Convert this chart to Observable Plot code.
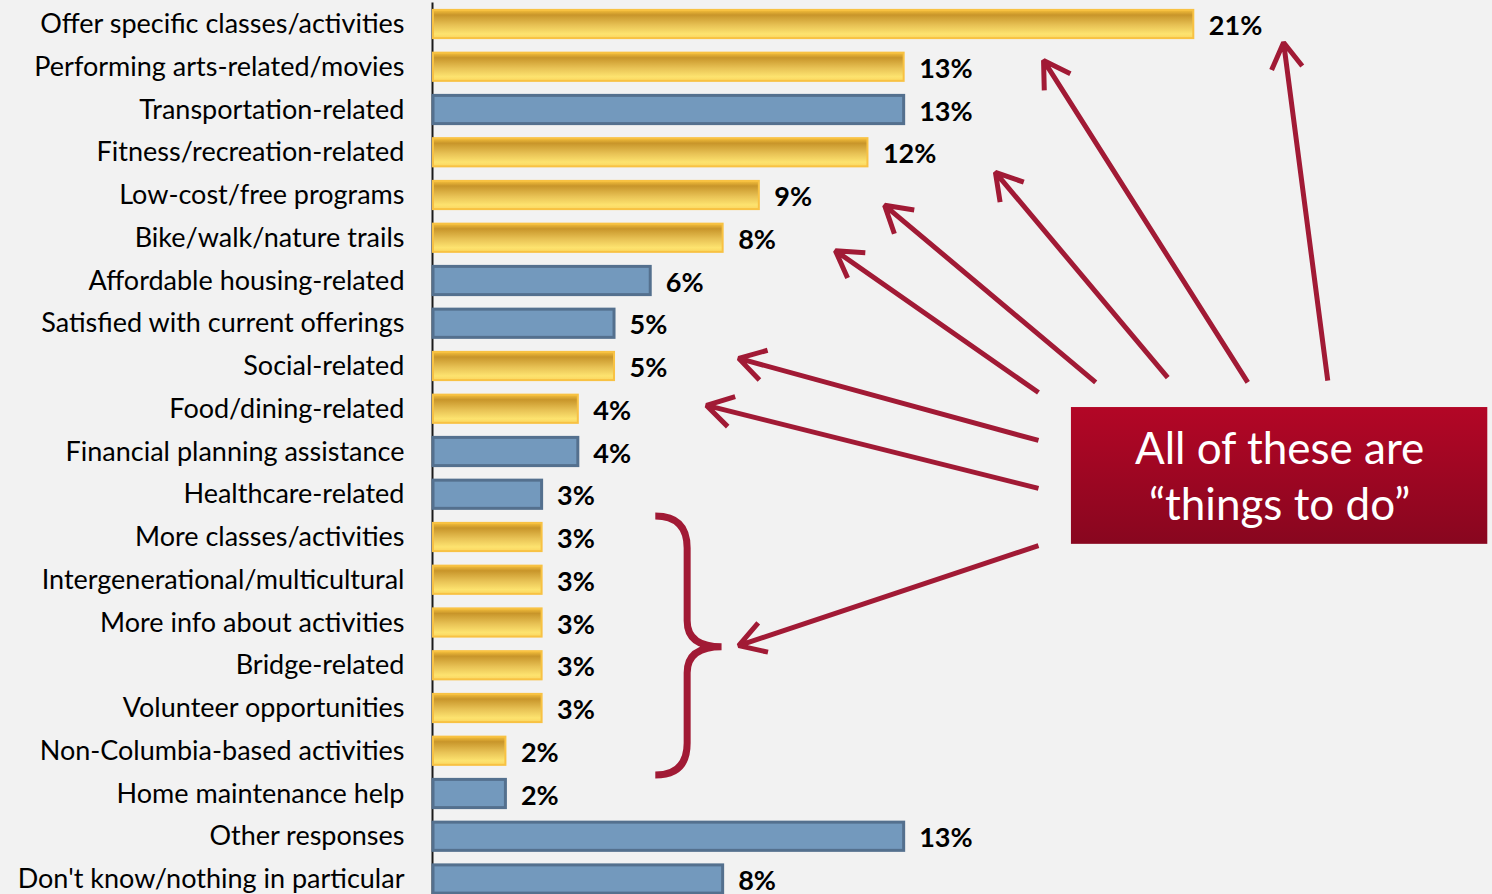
<!DOCTYPE html>
<html><head><meta charset="utf-8">
<script src="https://cdn.jsdelivr.net/npm/d3@7"></script>
<script src="https://cdn.jsdelivr.net/npm/@observablehq/plot@0.6"></script>
<style>
html,body{margin:0;padding:0;background:#f2f2f2;}
#chart svg{display:block;}
</style></head><body><div id="chart"></div>
<script>
const categories = [
  "Offer specific classes/activities",
  "Performing arts-related/movies",
  "Transportation-related",
  "Fitness/recreation-related",
  "Low-cost/free programs",
  "Bike/walk/nature trails",
  "Affordable housing-related",
  "Satisfied with current offerings",
  "Social-related",
  "Food/dining-related",
  "Financial planning assistance",
  "Healthcare-related",
  "More classes/activities",
  "Intergenerational/multicultural",
  "More info about activities",
  "Bridge-related",
  "Volunteer opportunities",
  "Non-Columbia-based activities",
  "Home maintenance help",
  "Other responses",
  "Don't know/nothing in particular"
];
const values = [21,13,13,12,9,8,6,5,5,4,4,3,3,3,3,3,3,2,2,13,8];
const thingsToDo = [true,true,false,true,true,true,false,false,true,true,false,false,true,true,true,true,true,true,false,false,false];
const valueLabels = values.map(v => v + "%");

// Annotation geometry in chart units (x: percent, y: row index)
const arrowTailX = [24.70, 22.49, 20.28, 18.29, 16.71, 16.71, 16.71, 16.71];
const arrowTailY = [8.33, 8.37, 8.26, 8.37, 8.61, 9.73, 10.85, 12.19];
const arrowTipX  = [23.48, 16.85, 15.52, 12.46, 11.10, 8.43, 7.54, 8.43];
const arrowTipY  = [0.42, 0.84, 3.46, 4.23, 5.29, 7.81, 8.91, 14.53];
const calloutText = "All of these are\n\u201cthings to do\u201d";
const calloutX = [17.62, 29.12];
const calloutY = [8.96, 12.16];
const braceX = [6.14, 7.02, 7.97];   // ends, spine, tip
const braceY = [11.51, 14.57, 17.57]; // top, tip, bottom

const rows = categories.map((c, i) => ({cat: c, i, value: values[i], label: valueLabels[i], todo: thingsToDo[i]}));
const arrows = arrowTailX.map((_, k) => ({x1: arrowTailX[k], y1: arrowTailY[k], x2: arrowTipX[k], y2: arrowTipY[k]}));
const callout = [{x1: calloutX[0], x2: calloutX[1], y1: calloutY[0], y2: calloutY[1], text: calloutText}];

function defsMark() {
  const defs = d3.create("svg:defs");
  const g = defs.append("linearGradient").attr("id", "gold").attr("x1", 0).attr("y1", 0).attr("x2", 0).attr("y2", 1);
  g.append("stop").attr("offset", "0%").attr("stop-color", "#f6c03c");
  g.append("stop").attr("offset", "18%").attr("stop-color", "#c8952a");
  g.append("stop").attr("offset", "55%").attr("stop-color", "#e8c255");
  g.append("stop").attr("offset", "85%").attr("stop-color", "#fde36f");
  g.append("stop").attr("offset", "100%").attr("stop-color", "#fbd660");
  const r = defs.append("linearGradient").attr("id", "red").attr("x1", 0).attr("y1", 0).attr("x2", 0).attr("y2", 1);
  r.append("stop").attr("offset", "0%").attr("stop-color", "#b30626");
  r.append("stop").attr("offset", "100%").attr("stop-color", "#88061f");
  const f = defs.append("filter").attr("id", "shadow").attr("x", "-10%").attr("y", "-10%").attr("width", "130%").attr("height", "140%");
  f.append("feGaussianBlur").attr("stdDeviation", 4);
  return defs.node();
}

function braceMark(index, scales) {
  const x = scales.x, y = scales.y;
  const xe = x(braceX[0]), xv = x(braceX[1]), xt = x(braceX[2]);
  const yt = y(braceY[0]), ym = y(braceY[1]), yb = y(braceY[2]);
  const r = 32, rm = 26;
  const d = `M${xe},${yt} Q${xv},${yt} ${xv},${yt + r} L${xv},${ym - rm} Q${xv},${ym} ${xt},${ym} Q${xv},${ym} ${xv},${ym + rm} L${xv},${yb - r} Q${xv},${yb} ${xe},${yb}`;
  const svg = d3.create("svg:path").attr("d", d).attr("fill", "none")
    .attr("stroke", "#a11a35").attr("stroke-width", 7).attr("stroke-linecap", "butt");
  return svg.node();
}

const plot = Plot.plot({
  width: 1492,
  height: 894,
  marginLeft: 433,
  marginRight: 0,
  marginTop: 0,
  marginBottom: 0,
  style: {fontFamily: "Lato, 'Open Sans', sans-serif", background: "#f2f2f2"},
  x: {domain: [0, 29.25], axis: null},
  y: {domain: [-0.5614, 20.351], reverse: true, axis: null},
  marks: [
    defsMark,
    Plot.ruleX([0], {y1: -0.5, y2: 20.4, stroke: "#1a1a1a", strokeWidth: 2, dx: -1}),
    Plot.rectX(rows.filter(d => d.todo), {x1: 0, x2: "value", y1: d => d.i - 0.33, y2: d => d.i + 0.33, fill: "url(#gold)", stroke: "#f8c243", strokeWidth: 2}),
    Plot.rectX(rows.filter(d => !d.todo), {x1: 0, x2: "value", y1: d => d.i - 0.33, y2: d => d.i + 0.33, fill: "#7399bd", stroke: "#54708e", strokeWidth: 3}),
    Plot.text(rows, {x: "value", y: "i", text: "label", dx: 15, dy: 2, textAnchor: "start", fontWeight: "bold", fontSize: 27, fill: "#000"}),
    Plot.text(rows, {x: 0, y: "i", text: "cat", dx: -29, textAnchor: "end", fontSize: 27, fill: "#000"}),
    Plot.arrow(arrows, {x1: "x1", y1: "y1", x2: "x2", y2: "y2", stroke: "#a11a35", strokeWidth: 5, headLength: 9, headAngle: 62, strokeLinecap: "butt", strokeLinejoin: "miter"}),
    braceMark,
    Plot.rect(callout, {x1: "x1", x2: "x2", y1: "y1", y2: "y2", fill: "#000", fillOpacity: 0.35, dx: 3, dy: 5, filter: "url(#shadow)"}),
    Plot.rect(callout, {x1: "x1", x2: "x2", y1: "y1", y2: "y2", fill: "url(#red)"}),
    Plot.text(callout, {x: d => (d.x1 + d.x2) / 2, y: d => (d.y1 + d.y2) / 2, text: "text", fill: "#fff", fontSize: 44, lineHeight: 1.27, dy: -2})
  ]
});
document.getElementById("chart").appendChild(plot);
</script>
</body></html>
